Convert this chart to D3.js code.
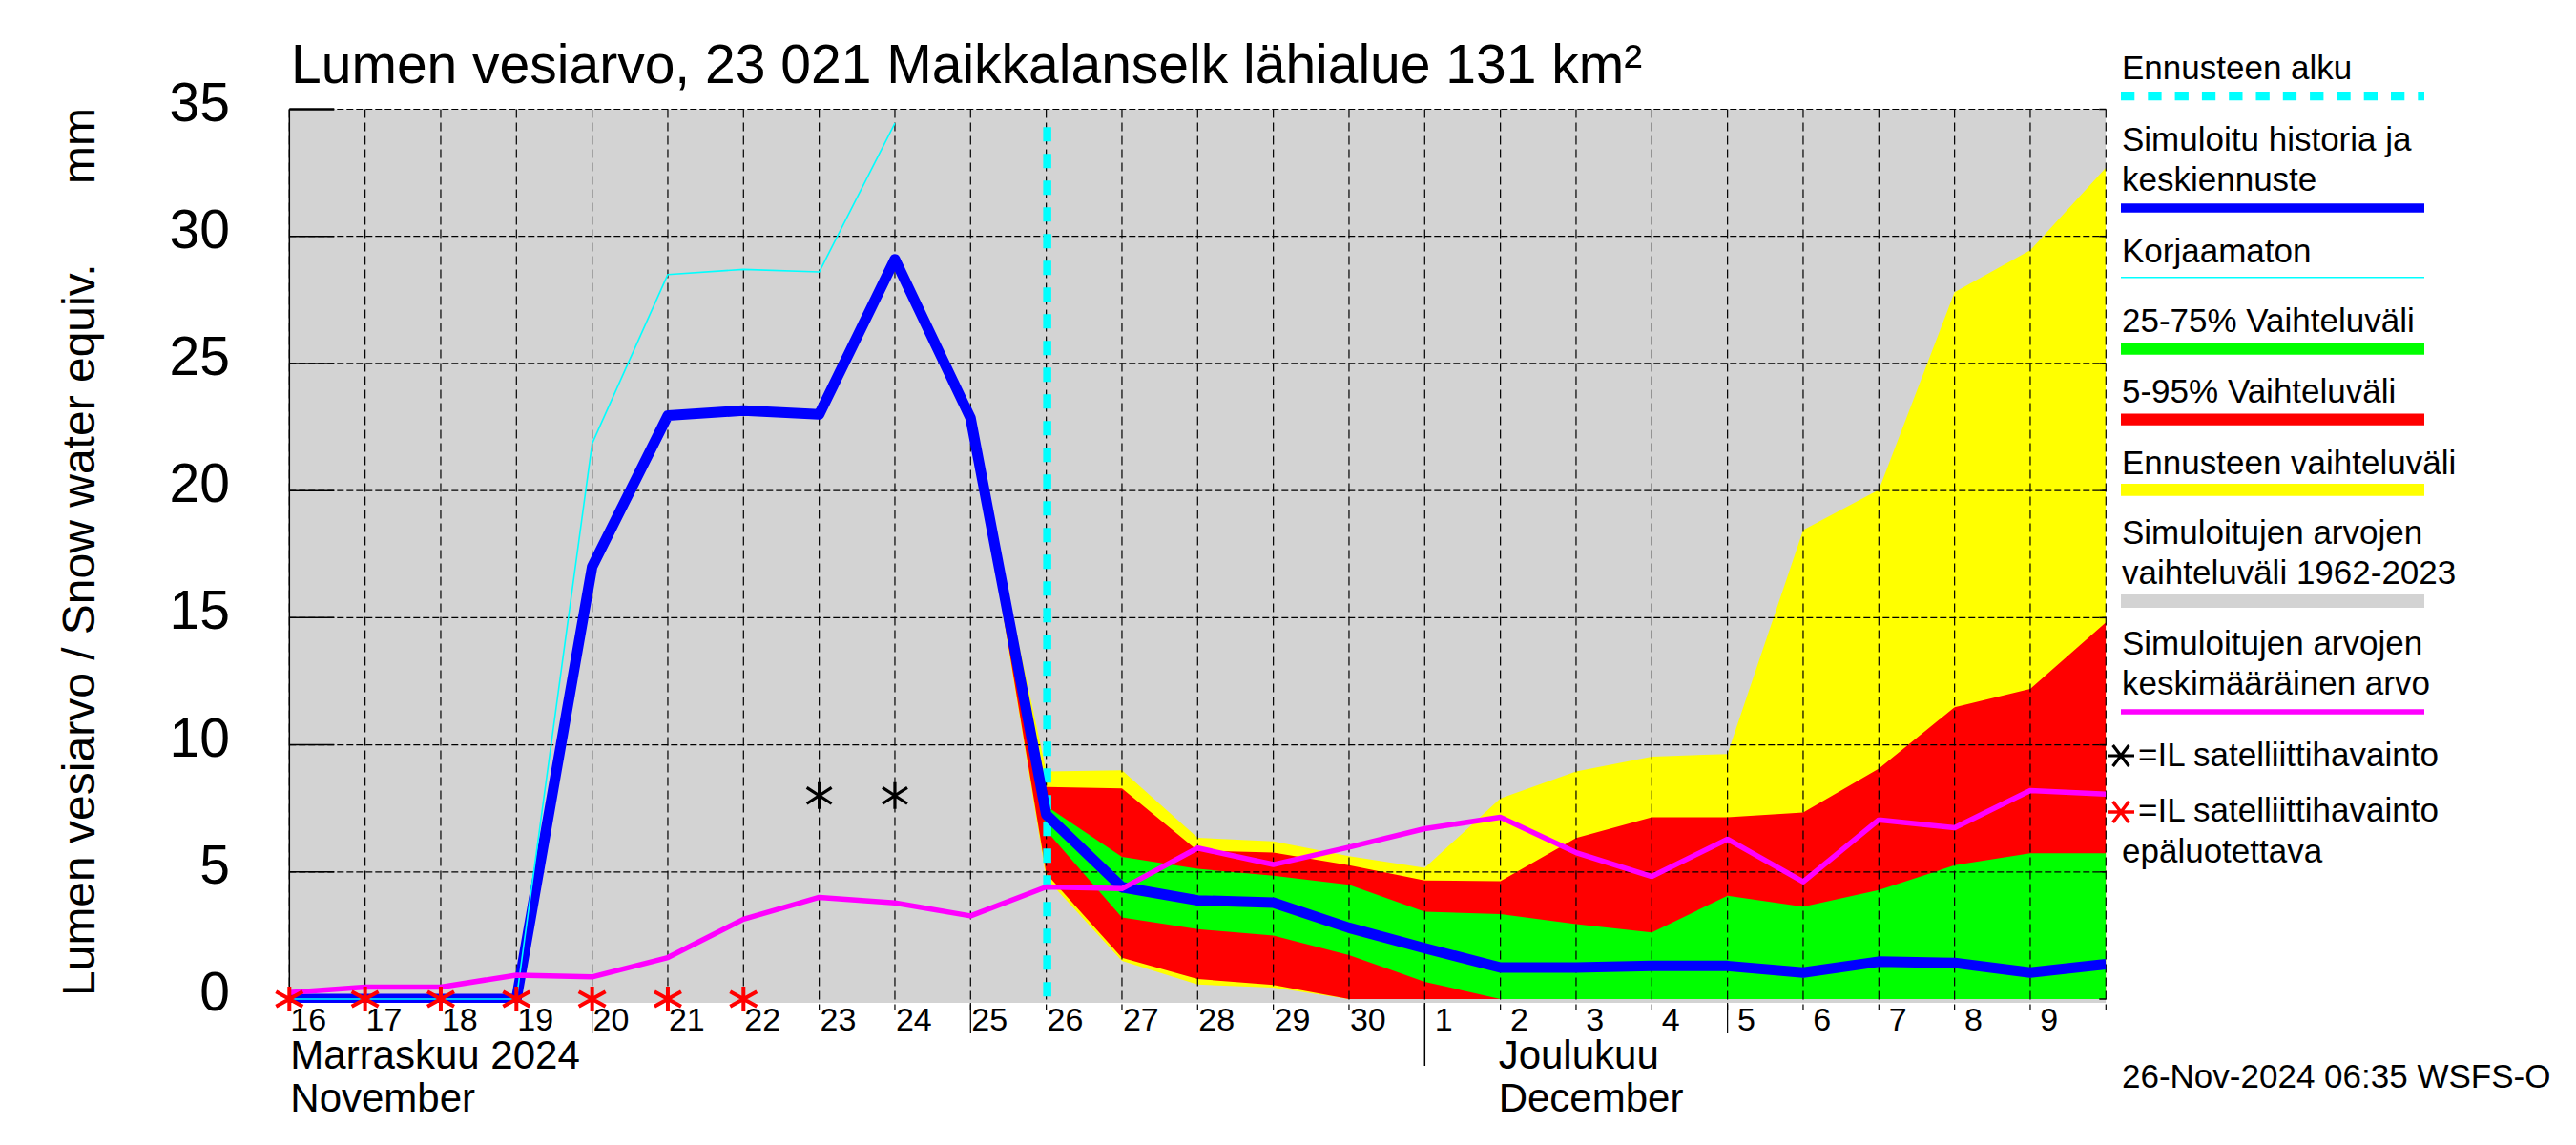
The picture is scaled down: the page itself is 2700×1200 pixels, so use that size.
<!DOCTYPE html>
<html><head><meta charset="utf-8">
<script src="https://cdn.jsdelivr.net/npm/d3@7"></script>
<style>
body{margin:0;background:#fff}
svg{display:block}
text{font-family:"Liberation Sans",Arial,Helvetica,sans-serif;fill:#000}
</style>
</head><body>
<svg id="chart" width="2700" height="1200"></svg>
<script>
// ---------------- DATA ----------------
const dates = ["2024-11-16","2024-11-17","2024-11-18","2024-11-19","2024-11-20","2024-11-21",
  "2024-11-22","2024-11-23","2024-11-24","2024-11-25","2024-11-26","2024-11-27","2024-11-28",
  "2024-11-29","2024-11-30","2024-12-01","2024-12-02","2024-12-03","2024-12-04","2024-12-05",
  "2024-12-06","2024-12-07","2024-12-08","2024-12-09","2024-12-10"];
// Simuloitu historia ja keskiennuste (blue)
const simulated = [0,0,0,0,17.0,22.95,23.15,23.0,29.1,22.85,7.25,4.4,3.88,3.79,2.8,2.0,1.24,1.24,1.3,1.3,1.04,1.47,1.42,1.04,1.37];
// Korjaamaton (thin cyan)
const uncorrected = [0,0,0,0,21.85,28.5,28.7,28.6,34.45,null,null,null,null,null,null,null,null,null,null,null,null,null,null,null,null];
// Simuloitujen arvojen keskimääräinen arvo (magenta)
const meanSim = [0.25,0.47,0.47,0.94,0.87,1.63,3.14,4.0,3.78,3.27,4.41,4.34,5.94,5.29,5.97,6.7,7.15,5.76,4.82,6.29,4.61,7.05,6.74,8.2,8.06];
// Ennusteen vaihteluväli (yellow)
const forecastMax = [null,null,null,null,null,null,null,null,null,22.85,8.95,9.0,6.34,6.2,5.62,5.16,7.89,8.95,9.53,9.64,18.45,20.03,27.8,29.45,32.7];
const forecastMin = [null,null,null,null,null,null,null,null,null,22.85,4.75,1.5,0.57,0.45,0,0,0,0,0,0,0,0,0,0,0];
// 5-95% (red)
const p95 = [null,null,null,null,null,null,null,null,null,22.85,8.34,8.29,5.84,5.76,5.26,4.66,4.64,6.33,7.15,7.15,7.34,9.06,11.48,12.2,14.82];
const p05 = [null,null,null,null,null,null,null,null,null,22.85,4.94,1.62,0.79,0.55,0,0,0,0,0,0,0,0,0,0,0];
// 25-75% (green)
const p75 = [null,null,null,null,null,null,null,null,null,22.85,7.59,5.59,5.12,4.85,4.49,3.43,3.34,2.95,2.62,4.06,3.63,4.29,5.26,5.73,5.73];
const p25 = [null,null,null,null,null,null,null,null,null,22.85,6.62,3.21,2.75,2.5,1.73,0.68,0,0,0,0,0,0,0,0,0];
// Simuloitujen arvojen vaihteluväli 1962-2023 (grey) - upper edge above the plot top
const histMin = [0,0,0,0,0,0,0,0,0,0,0,0,0,0,0,0,0,0,0,0,0,0,0,0,0];
const histMax = [35,35,35,35,35,35,35,35,35,35,35,35,35,35,35,35,35,35,35,35,35,35,35,35,35];
// Satellite observations
const satDates = ["2024-11-23","2024-11-24"];
const satValues = [8.0,8.0];
const satBadDates = ["2024-11-16","2024-11-17","2024-11-18","2024-11-19","2024-11-20","2024-11-21","2024-11-22"];
const satBadValues = [0,0,0,0,0,0,0];
const forecastStart = "2024-11-26";
// Tick labels
const yTicks = [0,5,10,15,20,25,30,35];
const xTickLabels = ["16","17","18","19","20","21","22","23","24","25","26","27","28","29","30","1","2","3","4","5","6","7","8","9"];
const longTickDates = ["2024-11-20","2024-11-25","2024-12-05"];
const monthSep = "2024-12-01";
const titleText = "Lumen vesiarvo, 23 021 Maikkalanselk lähialue 131 km²";
const yTitle = "Lumen vesiarvo / Snow water equiv.";
const yUnit = "mm";
const monthLabels = [["Marraskuu 2024","November"],["Joulukuu","December"]];
const legendLabels = ["Ennusteen alku",["Simuloitu historia ja","keskiennuste"],"Korjaamaton",
  "25-75% Vaihteluväli","5-95% Vaihteluväli","Ennusteen vaihteluväli",
  ["Simuloitujen arvojen","vaihteluväli 1962-2023"],["Simuloitujen arvojen","keskimääräinen arvo"],
  "=IL satelliittihavainto",["=IL satelliittihavainto","epäluotettava"]];
const stamp = "26-Nov-2024 06:35 WSFS-O";

// ---------------- LAYOUT ----------------
const L = 303.3, R = 2207.3, T = 114.5, B = 1051, Y0 = 1047;
const parse = s => new Date(s + "T00:00:00Z");
const x = d3.scaleUtc().domain([parse(dates[0]), parse(dates[dates.length-1])]).range([L, R]);
const y = d3.scaleLinear().domain([0, 35]).range([Y0, T]);
const svg = d3.select("#chart");
const C = {grey:"#d3d3d3", yellow:"#ffff00", red:"#ff0000", green:"#00ff00", blue:"#0000ff", cyan:"#00ffff", magenta:"#ff00ff"};

const rows = dates.map((d,i)=>({t:parse(d), sim:simulated[i], unc:uncorrected[i], mean:meanSim[i],
  fmax:forecastMax[i], fmin:forecastMin[i], p95:p95[i], p05:p05[i], p75:p75[i], p25:p25[i], hmin:histMin[i], hmax:histMax[i]}));

svg.append("defs").append("clipPath").attr("id","clip").append("rect")
  .attr("x",L).attr("y",T).attr("width",R-L).attr("height",B-T);

const plot = svg.append("g").attr("clip-path","url(#clip)");
plot.append("rect").attr("x",L).attr("y",T).attr("width",R-L).attr("height",B-T).attr("fill",C.grey);

function band(lo, hi, color){
  const a = d3.area().defined(d=>d[lo]!=null && d[hi]!=null)
    .x(d=>x(d.t)).y0(d=>y(d[lo])).y1(d=>y(d[hi]));
  plot.append("path").datum(rows).attr("d",a).attr("fill",color);
}
band("hmin","hmax",C.grey);
band("fmin","fmax",C.yellow);
band("p05","p95",C.red);
band("p25","p75",C.green);

// grid
const days = d3.utcDay.range(parse(dates[0]), d3.utcDay.offset(parse(dates[dates.length-1]),1));
const grid = svg.append("g");
grid.selectAll("line.v").data(days).join("line")
  .attr("x1",d=>x(d)).attr("x2",d=>x(d)).attr("y1",T).attr("y2",B+7)
  .attr("stroke","#000").attr("stroke-width",1.2).attr("stroke-dasharray","9,5");
grid.selectAll("line.h").data(yTicks.filter(v=>v>0)).join("line")
  .attr("x1",L).attr("x2",R).attr("y1",d=>y(d)).attr("y2",d=>y(d))
  .attr("stroke","#000").attr("stroke-width",1.2).attr("stroke-dasharray","7,3");
// long ticks
grid.selectAll("line.lt").data(longTickDates.map(parse)).join("line")
  .attr("x1",d=>x(d)).attr("x2",d=>x(d)).attr("y1",B).attr("y2",B+32)
  .attr("stroke","#000").attr("stroke-width",1.2);
// month separator
grid.append("line").attr("x1",x(parse(monthSep))).attr("x2",x(parse(monthSep)))
  .attr("y1",B).attr("y2",1117).attr("stroke","#000").attr("stroke-width",1.5);
// left axis line and ticks
grid.append("line").attr("x1",L).attr("x2",L).attr("y1",T).attr("y2",B).attr("stroke","#000").attr("stroke-width",1.5);
grid.selectAll("line.yt").data(yTicks).join("line")
  .attr("x1",L).attr("x2",L+47).attr("y1",d=>y(d)).attr("y2",d=>y(d))
  .attr("stroke","#000").attr("stroke-width",d=>d===35?2.5:1.5);
grid.selectAll("line.yr").data(yTicks).join("line")
  .attr("x1",R-7).attr("x2",R).attr("y1",d=>y(d)).attr("y2",d=>y(d))
  .attr("stroke","#000").attr("stroke-width",1.5);

// forecast start line
svg.append("line").attr("x1",x(parse(forecastStart))+1).attr("x2",x(parse(forecastStart))+1)
  .attr("y1",y(34.3)).attr("y2",y(0)).attr("stroke",C.cyan).attr("stroke-width",8.5)
  .attr("stroke-dasharray","15,13");

const lines = svg.append("g").attr("clip-path","url(#clip)");
function line(key,color,w){
  const g = d3.line().defined(d=>d[key]!=null).x(d=>x(d.t)).y(d=>y(d[key]));
  lines.append("path").datum(rows).attr("d",g).attr("fill","none").attr("stroke",color)
    .attr("stroke-width",w).attr("stroke-linejoin","round");
}
line("sim",C.blue,11);
line("unc",C.cyan,1.6);
line("mean",C.magenta,5.5);

// asterisk markers
function astV(cx,cy,hw,hh){ // vertical + two diagonals
  return `M${cx},${cy-hh}L${cx},${cy+hh}M${cx-hw},${cy-hh*0.6}L${cx+hw},${cy+hh*0.6}M${cx-hw},${cy+hh*0.6}L${cx+hw},${cy-hh*0.6}`;
}
function astH(cx,cy,hw,hh){ // horizontal + two diagonals
  return `M${cx-hw},${cy}L${cx+hw},${cy}M${cx-hw*0.6},${cy-hh}L${cx+hw*0.6},${cy+hh}M${cx-hw*0.6},${cy+hh}L${cx+hw*0.6},${cy-hh}`;
}
svg.append("g").selectAll("path").data(satBadDates.map((d,i)=>[parse(d),satBadValues[i]])).join("path")
  .attr("d",d=>astV(x(d[0]),y(d[1]),14,13)).attr("stroke",C.red).attr("stroke-width",4).attr("fill","none");
svg.append("g").selectAll("path").data(satDates.map((d,i)=>[parse(d),satValues[i]])).join("path")
  .attr("d",d=>astV(x(d[0]),y(d[1]),13,14)).attr("stroke","#000").attr("stroke-width",3.2).attr("fill","none");

// ---------------- TEXT ----------------
svg.append("text").attr("x",305).attr("y",87).attr("font-size",57).text(titleText);
svg.append("g").selectAll("text").data(yTicks).join("text")
  .attr("x",241).attr("y",d=>y(d)+12).attr("text-anchor","end").attr("font-size",57).text(d=>d);
svg.append("text").attr("transform","translate(99,1044) rotate(-90)").attr("font-size",48).text(yTitle);
svg.append("text").attr("transform","translate(99,193) rotate(-90)").attr("font-size",48).text(yUnit);

svg.append("g").selectAll("text").data(xTickLabels).join("text")
  .attr("x",(d,i)=>x(d3.utcHour.offset(days[i],6))).attr("y",1080).attr("text-anchor","middle")
  .attr("font-size",34).text(d=>d);
const mX = [x(parse(dates[0]))+1, x(parse("2024-12-02"))-2];
monthLabels.forEach((m,i)=>{
  svg.append("text").attr("x",mX[i]).attr("y",1120).attr("font-size",42).text(m[0]);
  svg.append("text").attr("x",mX[i]).attr("y",1165).attr("font-size",42).text(m[1]);
});

// ---------------- LEGEND ----------------
const LX = 2224, LX2 = 2541, LF = 35;
const lg = svg.append("g");
function lt(str,yy,xx){ lg.append("text").attr("x",xx||LX).attr("y",yy).attr("font-size",LF).text(str); }
function lb(yy,color,w,dash){ const l=lg.append("line").attr("x1",LX-1).attr("x2",LX2).attr("y1",yy).attr("y2",yy)
  .attr("stroke",color).attr("stroke-width",w); if(dash) l.attr("stroke-dasharray",dash); }
lt(legendLabels[0],83); lb(100.7,C.cyan,9.3,"14.3,14");
lt(legendLabels[1][0],158); lt(legendLabels[1][1],200); lb(218,C.blue,9.3);
lt(legendLabels[2],275); lb(290.7,C.cyan,1.6);
lt(legendLabels[3],348); lb(365.5,C.green,12.3);
lt(legendLabels[4],422); lb(439.7,C.red,12.3);
lt(legendLabels[5],497); lb(513.4,C.yellow,12.6);
lt(legendLabels[6][0],570); lt(legendLabels[6][1],611.5); lb(630,C.grey,14);
lt(legendLabels[7][0],686); lt(legendLabels[7][1],728); lb(746,C.magenta,5.5);
lg.append("path").attr("d",astH(2223,792,14,11)).attr("stroke","#000").attr("stroke-width",3.2).attr("fill","none");
lt(legendLabels[8],803,2241);
lg.append("path").attr("d",astH(2223,851,14,11)).attr("stroke",C.red).attr("stroke-width",3.5).attr("fill","none");
lt(legendLabels[9][0],861,2241); lt(legendLabels[9][1],904);
lt(stamp,1140);
</script>
</body></html>
